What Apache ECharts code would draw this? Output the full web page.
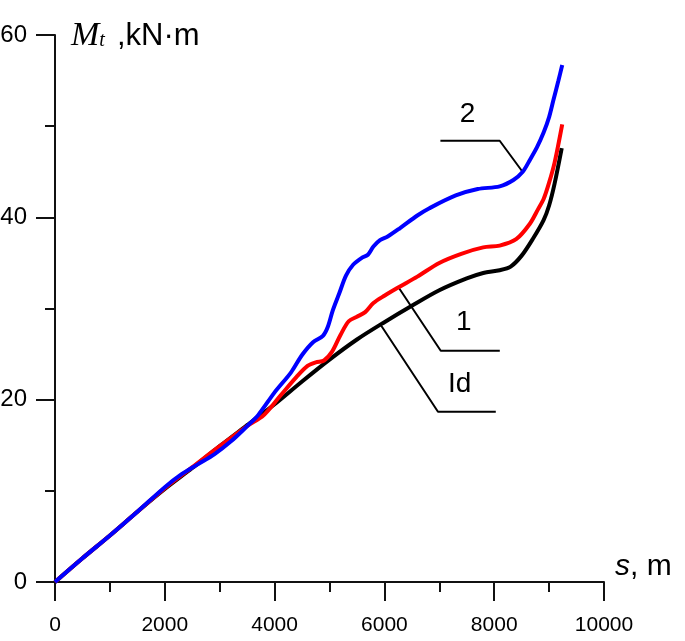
<!DOCTYPE html>
<html><head><meta charset="utf-8">
<script src="https://cdn.jsdelivr.net/npm/echarts@6/dist/echarts.min.js"></script>
<style>html,body{margin:0;padding:0;background:#fff}#c{width:685px;height:641px}</style>
</head><body><div id="c"></div>
<script>
// Axis ranges / ticks
const xRange = [0, 10000];
const yRange = [0, 60];
const xStep = 2000;
const yStep = 20;

// Curve "Id" (black)
const idS = [0,500,1000,1500,2000,2500,3000,3500,4000,4500,5000,5500,6000,6500,7000,7500,7800,8100,8300,8500,8700,8900,9000,9100,9230];
const idM = [0,2.6,5.1,7.7,10.2,12.5,14.9,17.2,19.5,22.0,24.4,26.6,28.5,30.3,32.0,33.3,33.9,34.2,34.6,35.8,37.6,39.7,41.3,43.7,47.6];

// Curve "1" (red)
const c1S = [0,500,1000,1500,2000,2500,3000,3500,3800,4100,4400,4600,4750,4900,5050,5200,5350,5500,5650,5800,6000,6250,6600,7000,7400,7800,8100,8400,8650,8800,8900,9000,9100,9239];
const c1M = [0,2.6,5.1,7.7,10.3,12.6,14.9,17.1,18.3,20.4,22.5,23.7,24.1,24.3,25.3,27.1,28.6,29.1,29.6,30.6,31.4,32.3,33.5,35.0,36.0,36.7,36.9,37.6,39.3,40.9,42.0,43.8,46.0,50.2];

// Curve "2" (blue)
const c2S = [0,500,1000,1500,2000,2300,2600,2900,3200,3500,3700,4000,4300,4500,4700,4880,4970,5060,5180,5300,5430,5600,5700,5800,5920,6060,6280,6600,6820,7300,7700,8100,8350,8520,8650,8780,8900,9000,9080,9170,9239];
const c2M = [0,2.6,5.1,7.7,10.4,11.8,12.9,14.0,15.4,17.1,18.3,20.8,23.0,24.9,26.3,27.0,28.0,29.8,31.7,33.6,34.8,35.6,35.9,36.8,37.5,37.9,38.8,40.2,41.0,42.4,43.1,43.4,44.1,45.0,46.3,47.7,49.3,51.0,52.9,55.0,56.7];

// Annotation leader lines (data coordinates)
const lead2S = [7020, 8100, 8516];
const lead2M = [48.4, 48.4, 45.0];
const lead1S = [6259, 7026, 8102];
const lead1M = [32.3, 25.36, 25.36];
const leadIdS = [5943, 6976, 8029];
const leadIdM = [28.1, 18.67, 18.67];

// Annotation labels
const labelText = ['2', '1', 'Id'];
const labelS = [7513, 7445, 7372];
const labelM = [51.4, 28.5, 21.7];

const zip = (a, b) => a.map((v, i) => [v, b[i]]);

const axisColor = '#111';
const chart = echarts.init(document.getElementById('c'));

const curve = (name, s, m, color) => ({
  name, type: 'line', data: zip(s, m), showSymbol: false, symbol: 'none',
  smooth: 0.3, silent: true,
  lineStyle: { color, width: 4 }
});
const leader = (s, m) => ({
  type: 'line', data: zip(s, m), showSymbol: false, symbol: 'none', silent: true,
  lineStyle: { color: '#000', width: 2 }, z: 1
});

chart.setOption({
  animation: false,
  backgroundColor: '#fff',
  grid: { left: 55, right: 81, top: 35, bottom: 59, containLabel: false, outerBoundsMode: 'none' },
  xAxis: {
    type: 'value', min: xRange[0], max: xRange[1], interval: xStep,
    name: '{s|s}{u|, m}', nameLocation: 'end', nameGap: 11,
    nameTextStyle: {
      align: 'left', verticalAlign: 'bottom', padding: [0, 0, 0, 0],
      rich: {
        s: { fontFamily: 'Liberation Sans', fontSize: 30, fontStyle: 'italic', color: '#000' },
        u: { fontFamily: 'Liberation Sans', fontSize: 30, color: '#000' }
      }
    },
    axisLine: { show: true, onZero: false, lineStyle: { color: axisColor, width: 2 } },
    axisTick: { show: true, inside: false, length: 19, lineStyle: { color: axisColor, width: 2 } },
    minorTick: { show: true, splitNumber: 2, length: 10, lineStyle: { color: axisColor, width: 2 } },
    splitLine: { show: false }, minorSplitLine: { show: false },
    axisLabel: { margin: 33, fontFamily: 'Liberation Sans', fontSize: 21, color: '#000', formatter: v => String(v) }
  },
  yAxis: {
    type: 'value', min: yRange[0], max: yRange[1], interval: yStep,
    name: '{m|M}{t|t}{u|,kN·m}', nameLocation: 'end', nameGap: -18,
    nameTextStyle: {
      align: 'left', verticalAlign: 'bottom', padding: [0, 0, 0, 16],
      rich: {
        m: { fontFamily: 'Liberation Serif', fontStyle: 'italic', fontSize: 34, color: '#000' },
        t: { fontFamily: 'Liberation Serif', fontStyle: 'italic', fontSize: 20, color: '#000', padding: [10, 0, 0, 0] },
        u: { fontFamily: 'Liberation Sans', fontSize: 31, color: '#000', padding: [0, 0, 0, 12] }
      }
    },
    axisLine: { show: true, onZero: false, lineStyle: { color: axisColor, width: 2 } },
    axisTick: { show: true, inside: false, length: 19, lineStyle: { color: axisColor, width: 2 } },
    minorTick: { show: true, splitNumber: 2, length: 10, lineStyle: { color: axisColor, width: 2 } },
    splitLine: { show: false }, minorSplitLine: { show: false },
    axisLabel: { margin: 28, fontFamily: 'Liberation Sans', fontSize: 24, color: '#000', formatter: v => String(v) }
  },
  series: [
    leader(lead2S, lead2M),
    leader(lead1S, lead1M),
    leader(leadIdS, leadIdM),
    curve('Id', idS, idM, '#000'),
    curve('1', c1S, c1M, '#ff0000'),
    curve('2', c2S, c2M, '#0000ff'),
    {
      type: 'scatter', symbol: 'circle', symbolSize: 1, silent: true,
      itemStyle: { color: 'rgba(0,0,0,0)' },
      data: labelText.map((t, i) => ({ value: [labelS[i], labelM[i]], name: t })),
      label: { show: true, position: 'top', distance: 0, offset: [0, 15], formatter: p => p.name, fontFamily: 'Liberation Sans', fontSize: 28, color: '#000', opacity: 1 }
    }
  ]
});
</script></body></html>
